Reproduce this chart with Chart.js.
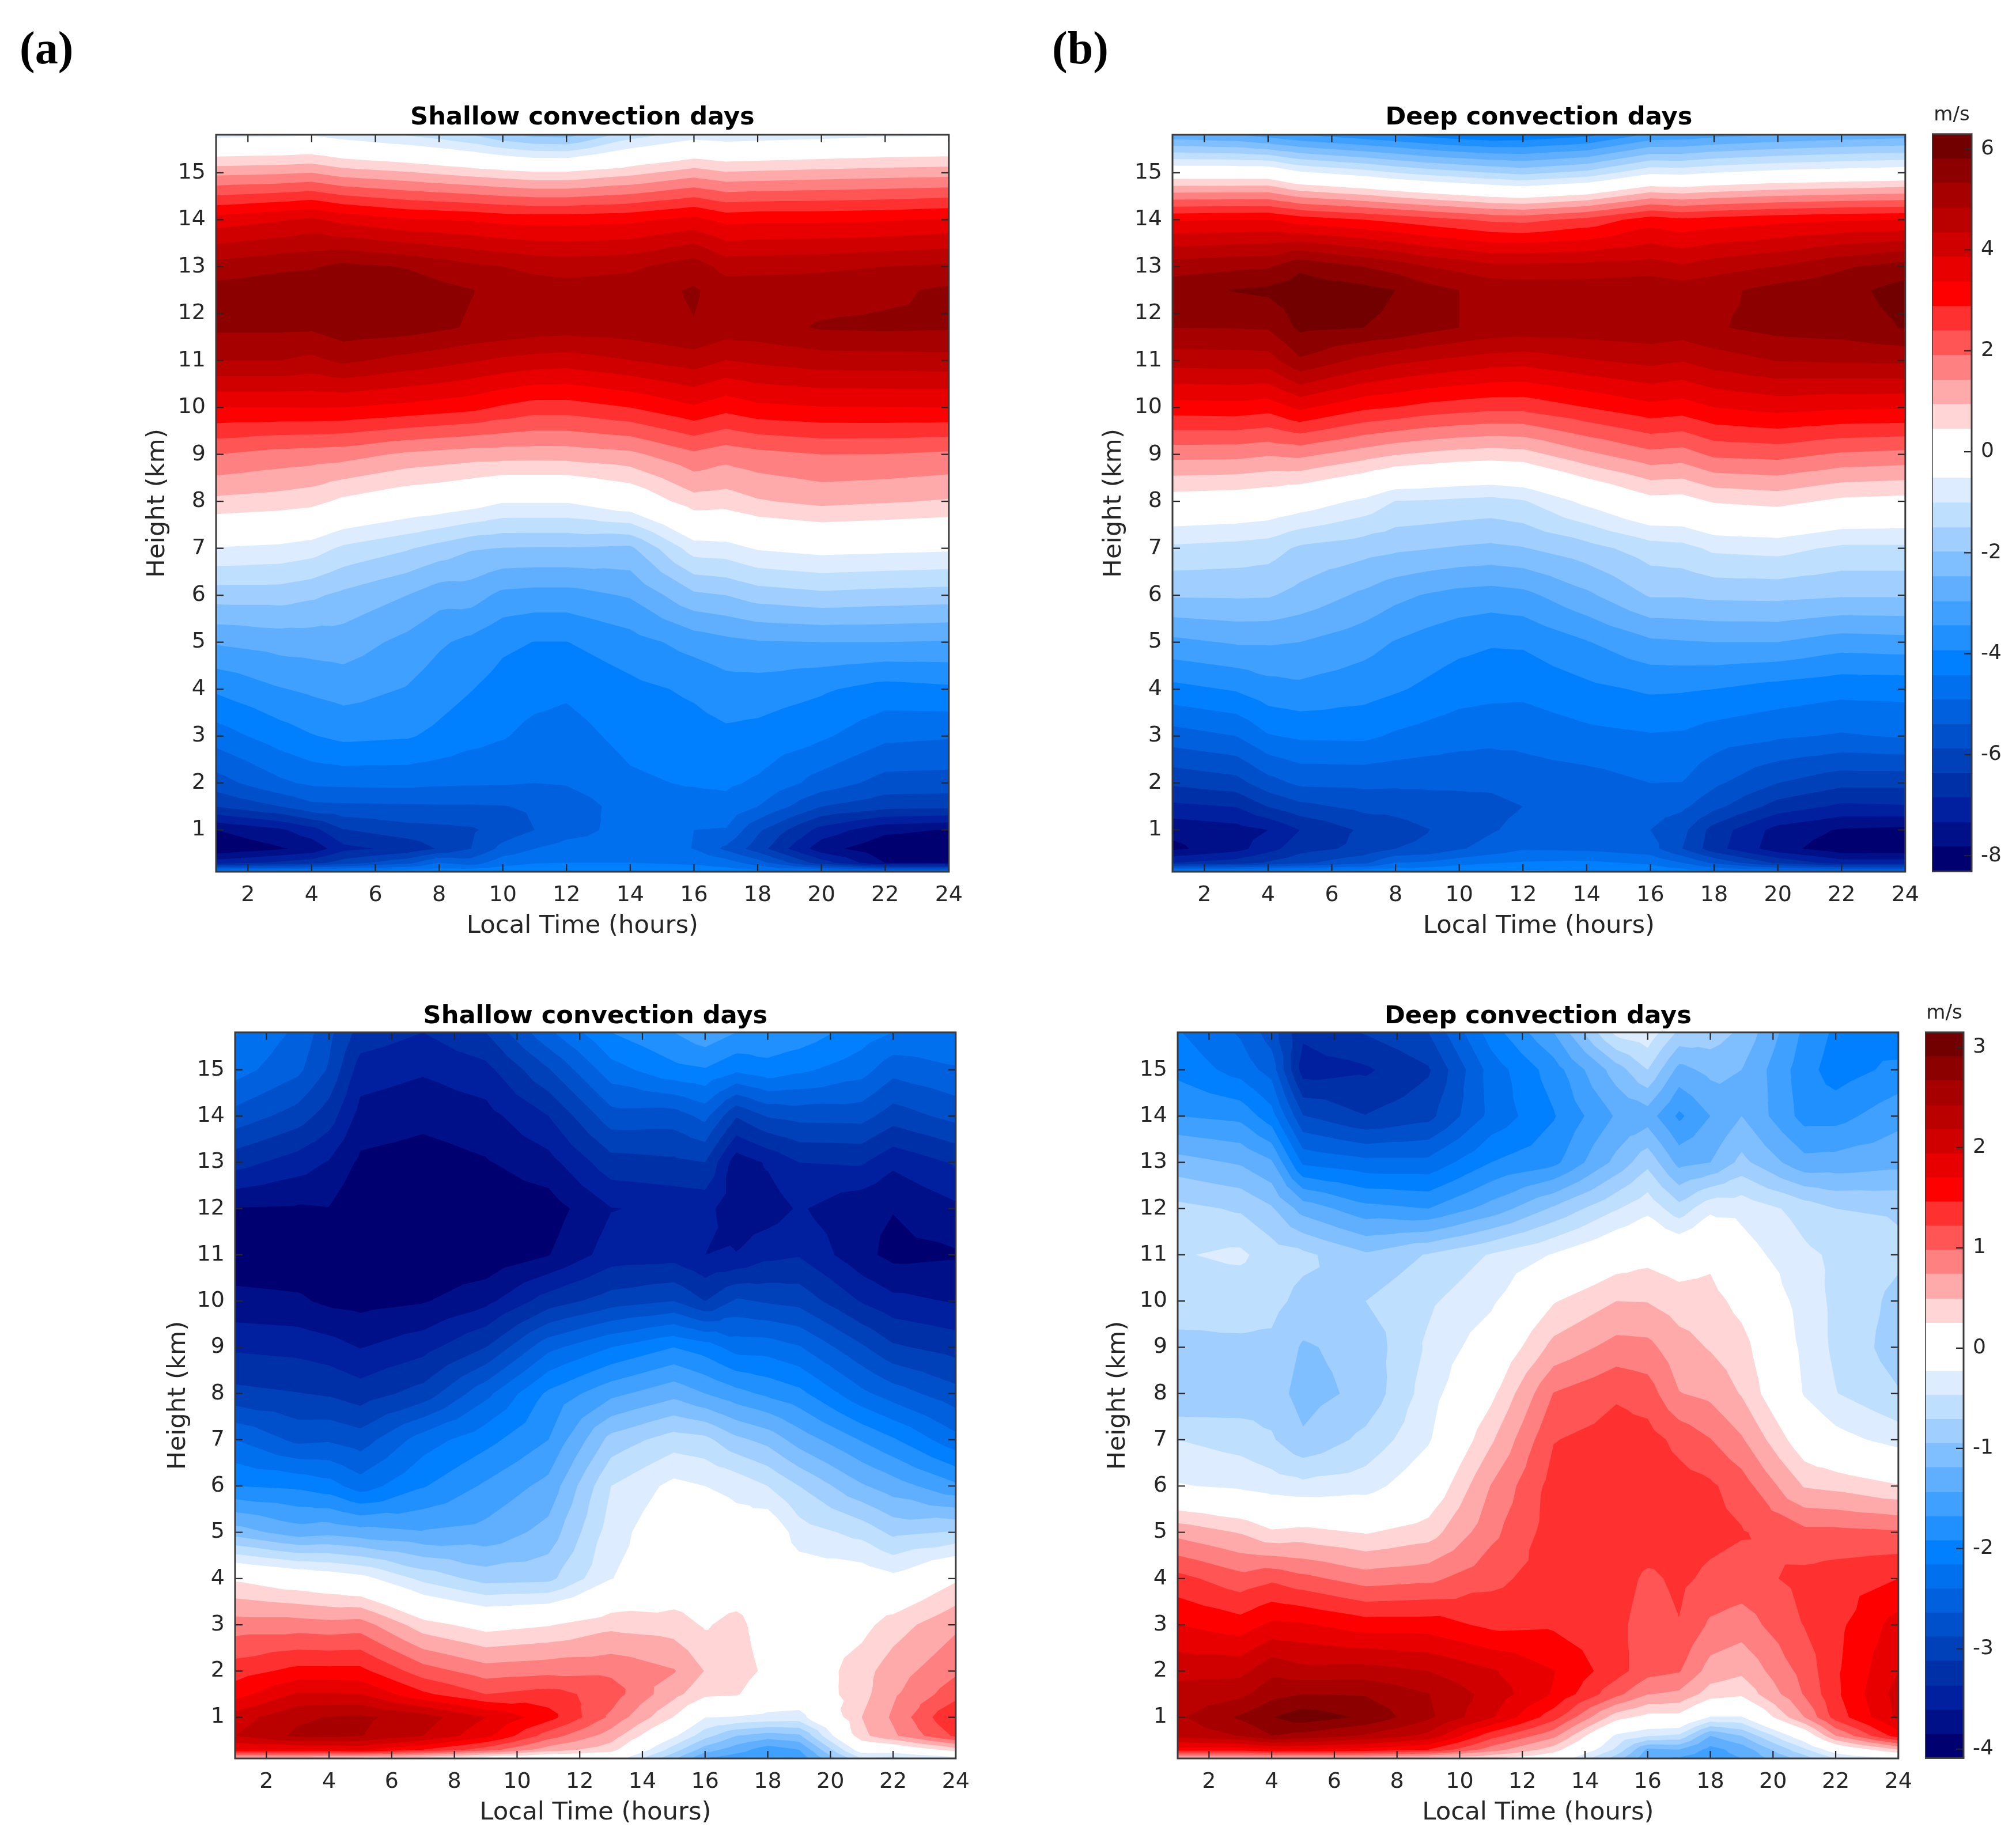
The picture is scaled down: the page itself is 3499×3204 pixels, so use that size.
<!DOCTYPE html>
<html><head><meta charset="utf-8">
<script src="https://cdn.jsdelivr.net/npm/chart.js@4"></script>
<style>
html,body{margin:0;padding:0;background:#fff}
#page{position:relative;width:3499px;height:3204px;overflow:hidden;background:#fff}
#page canvas{position:absolute}
.tag{position:absolute;font:bold 80px "Liberation Serif",serif;color:#000;line-height:1}
</style></head><body><div id="page">
<div class="tag" style="left:34px;top:43px">(a)</div>
<div class="tag" style="left:1826px;top:43px">(b)</div>
</div>
<script>
const HEIGHTS_TOP=[0.11,0.3,0.6,1,1.5,2,3,4,5,6,7,8,9,10,11,11.7,12.5,13,14,15,15.81];
const HEIGHTS_BOTTOM=[0.11,0.3,0.6,1,1.5,2,3,4,5,6,7,8,9,10,11,12,13,14,15,15.81];
const HOURS_TOP=[1,3,4,5,7,8,9,10,11,12,14,16,17,18,20,22,24];
const HOURS_BOTTOM=[1,3,4,5,7,9,11,13,15,16,17,18,19,21,22,24];
const X_TICKS=[2,4,6,8,10,12,14,16,18,20,22,24];
const Y_TICKS=[1,2,3,4,5,6,7,8,9,10,11,12,13,14,15];
const BAR_TICKS_TOP=[-8,-6,-4,-2,0,2,4,6];
const BAR_TICKS_BOTTOM=[-4,-3,-2,-1,0,1,2,3];
const LEVELS_TOP=[-8.31,-7.82,-7.34,-6.85,-6.36,-5.88,-5.39,-4.90,-4.42,-3.93,-3.44,-2.96,-2.47,-1.98,-1.50,-1.01,-0.52,-0.04,0.45,0.94,1.42,1.91,2.40,2.88,3.37,3.86,4.34,4.83,5.32,5.80,6.29];
const LEVELS_BOTTOM=[-4.09,-3.85,-3.61,-3.37,-3.12,-2.88,-2.64,-2.40,-2.16,-1.92,-1.68,-1.44,-1.19,-0.95,-0.71,-0.47,-0.23,0.01,0.25,0.49,0.74,0.98,1.22,1.46,1.70,1.94,2.18,2.42,2.67,2.91,3.15];
const BAND_COLORS=["#000070","#001088","#0020a0","#0030a8","#0040b8","#0050cc","#0060dd","#0070ee","#0080ff","#2090ff","#40a0ff","#60afff","#80bfff","#a0cfff","#bfdfff","#deecff","#ffffff","#ffffff","#ffd5d5","#ffaaaa","#ff8080","#ff5555","#ff3030","#ff0000","#e80000","#d10000","#bb0000","#a60000","#8c0000","#730000"];
const TITLE_SHALLOW="Shallow convection days";
const TITLE_DEEP="Deep convection days";
// each row: one local hour, values (m/s) from the lowest height to the highest
const PANEL_A=[
[-4.27,-7.09,-8.21,-7.82,-6.34,-5.61,-4.66,-3.85,-2.91,-1.76,-0.55,0.82,1.91,3.37,4.83,5.41,5.51,5.03,3.59,1.28,-0.67],
[-4.27,-6.75,-7.87,-7.43,-5.88,-5.00,-4.17,-3.47,-2.76,-1.76,-0.64,0.72,1.72,3.37,4.83,5.41,5.61,5.22,3.81,1.35,-0.62],
[-4.22,-6.56,-7.68,-7.04,-5.53,-4.81,-3.96,-3.35,-2.74,-1.89,-0.77,0.62,1.67,3.39,4.71,5.39,5.66,5.27,3.95,1.42,-0.57],
[-4.22,-6.12,-6.99,-6.39,-5.49,-4.77,-3.81,-3.24,-2.71,-2.10,-1.11,0.33,1.62,3.37,4.93,5.61,5.73,5.46,3.71,1.18,-0.77],
[-4.12,-5.54,-6.70,-6.07,-5.46,-4.76,-3.88,-3.47,-3.10,-2.47,-1.45,0.01,1.33,3.22,4.66,5.54,5.61,5.29,3.42,0.99,-1.06],
[-4.12,-4.90,-6.31,-6.02,-5.44,-4.81,-4.05,-3.70,-3.37,-2.76,-1.69,-0.08,1.25,3.13,4.54,5.41,5.46,5.12,3.37,0.86,-1.25],
[-4.12,-5.15,-5.88,-5.95,-5.44,-4.84,-4.25,-3.91,-3.56,-2.74,-1.93,-0.23,1.18,3.03,4.39,5.27,5.34,4.95,3.32,0.74,-1.50],
[-4.08,-4.61,-5.24,-5.68,-5.41,-4.85,-4.38,-4.13,-3.83,-3.09,-2.00,-0.47,1.16,2.81,4.25,5.20,5.17,4.83,3.22,0.62,-1.89],
[-4.03,-4.46,-4.90,-5.39,-5.32,-4.90,-4.57,-4.25,-3.94,-3.15,-2.01,-0.47,1.15,2.64,4.15,5.10,5.07,4.71,3.18,0.52,-2.13],
[-3.98,-4.42,-4.71,-5.10,-5.20,-4.86,-4.61,-4.34,-3.94,-3.15,-2.01,-0.47,1.16,2.64,4.10,5.05,5.03,4.64,3.18,0.52,-2.18],
[-4.03,-4.42,-4.66,-4.71,-4.66,-4.51,-4.27,-4.06,-3.64,-2.91,-2.08,-0.08,1.30,2.88,4.33,5.12,5.10,4.73,3.25,0.79,-1.25],
[-4.12,-4.51,-4.91,-4.90,-4.66,-4.37,-4.12,-3.85,-3.25,-2.08,-0.77,0.74,1.81,3.30,4.59,5.30,5.37,5.12,3.52,1.18,-0.77],
[-4.17,-4.66,-5.49,-4.93,-4.56,-4.34,-4.03,-3.66,-3.10,-1.98,-0.72,0.69,1.62,3.05,4.33,5.12,5.12,4.64,3.22,0.99,-0.86],
[-4.27,-5.15,-6.12,-5.78,-4.90,-4.49,-4.09,-3.67,-3.00,-1.76,-0.47,0.89,1.76,3.25,4.44,5.12,5.07,4.68,3.27,1.03,-0.81],
[-4.42,-6.61,-7.63,-7.04,-5.88,-5.10,-4.34,-3.86,-2.96,-1.62,-0.33,1.08,1.91,3.35,4.59,5.37,5.12,4.73,3.27,1.11,-0.72],
[-4.66,-7.82,-8.16,-7.70,-6.19,-5.58,-4.78,-4.12,-2.96,-1.69,-0.38,0.99,1.90,3.36,4.61,5.41,5.22,4.83,3.32,1.18,-0.62],
[-4.76,-7.82,-8.21,-7.85,-6.24,-5.61,-4.85,-4.03,-3.00,-1.74,-0.43,0.89,1.81,3.37,4.64,5.37,5.41,4.93,3.42,1.23,-0.57]];
const PANEL_B=[
[-4.17,-6.85,-7.92,-7.70,-6.97,-6.27,-5.12,-4.08,-3.08,-1.93,-1.11,0.16,1.59,3.15,4.56,5.32,5.61,5.10,3.32,0.01,-2.81],
[-4.17,-6.60,-7.53,-7.53,-6.83,-6.07,-4.90,-3.88,-2.91,-1.91,-1.20,0.09,1.57,3.18,4.59,5.34,5.83,5.22,3.37,0.01,-2.96],
[-4.12,-6.30,-7.04,-7.34,-6.34,-5.58,-4.46,-3.64,-2.91,-1.93,-1.28,0.00,1.47,3.08,4.61,5.37,5.90,5.27,3.39,0.01,-3.20],
[-4.12,-6.00,-6.56,-6.85,-6.02,-5.29,-4.34,-3.56,-2.96,-2.13,-1.59,-0.18,1.55,3.47,5.25,5.90,6.05,5.71,3.13,-0.43,-3.44],
[-4.08,-5.50,-6.22,-6.27,-5.73,-5.27,-4.32,-3.73,-3.25,-2.57,-1.79,-0.64,1.16,2.98,4.68,5.80,5.95,5.32,2.88,-0.77,-3.78],
[-4.08,-4.90,-5.88,-6.07,-5.73,-5.29,-4.49,-3.87,-3.47,-2.83,-1.89,-1.03,0.96,2.87,4.47,5.71,5.80,5.12,2.74,-1.01,-3.93],
[-4.03,-4.81,-5.78,-5.90,-5.63,-5.29,-4.61,-4.03,-3.64,-3.00,-1.96,-1.06,0.84,2.71,4.34,5.49,5.51,4.83,2.59,-1.20,-4.12],
[-3.93,-4.61,-5.44,-5.68,-5.58,-5.29,-4.71,-4.21,-3.78,-3.13,-2.03,-1.13,0.74,2.62,4.22,5.32,5.32,4.68,2.45,-1.35,-4.27],
[-3.88,-4.46,-5.20,-5.44,-5.53,-5.29,-4.76,-4.27,-3.88,-3.18,-2.08,-1.18,0.69,2.54,4.10,5.17,5.17,4.49,2.30,-1.50,-4.37],
[-3.83,-4.37,-4.95,-5.24,-5.39,-5.15,-4.76,-4.29,-3.86,-3.10,-2.01,-1.06,0.74,2.54,4.05,5.12,5.10,4.49,2.25,-1.64,-4.32],
[-3.88,-4.32,-5.00,-5.10,-5.15,-5.10,-4.56,-4.05,-3.47,-2.57,-1.69,-0.38,1.30,2.88,4.30,5.12,5.12,4.51,2.54,-1.35,-4.08],
[-4.08,-4.51,-5.20,-5.39,-5.20,-4.90,-4.46,-3.86,-3.05,-1.93,-1.25,0.26,1.76,3.22,4.49,5.17,5.20,4.59,3.13,-0.62,-3.35],
[-4.17,-4.90,-5.88,-5.73,-5.29,-4.91,-4.49,-3.88,-3.00,-1.93,-1.18,0.23,1.69,3.13,4.37,5.12,5.12,4.42,2.98,-0.67,-3.30],
[-4.32,-5.49,-6.65,-6.56,-5.73,-5.29,-4.66,-3.93,-2.96,-1.86,-0.91,0.50,2.01,3.37,4.59,5.27,5.17,4.61,3.08,-0.52,-3.15],
[-4.51,-6.46,-7.63,-7.53,-6.56,-5.88,-4.83,-4.12,-2.96,-1.84,-0.84,0.62,2.08,3.54,4.85,5.49,5.51,4.85,3.22,-0.33,-2.96],
[-4.66,-7.09,-8.12,-7.87,-6.95,-6.22,-4.95,-4.27,-3.20,-1.93,-1.11,0.33,1.84,3.44,4.90,5.56,5.63,5.25,3.32,-0.23,-2.81],
[-4.76,-7.09,-8.16,-7.95,-6.90,-6.22,-4.85,-4.25,-3.15,-1.93,-1.11,0.26,1.76,3.42,4.93,5.83,6.00,5.54,3.37,-0.13,-2.71]];
const PANEL_C=[
[0.49,1.70,2.18,2.06,1.60,1.35,0.86,0.21,-1.07,-1.92,-2.40,-3.05,-3.41,-3.78,-3.99,-3.86,-3.27,-2.73,-2.30,-2.14],
[0.49,1.70,2.47,2.38,1.97,1.53,0.86,0.04,-1.32,-1.97,-2.70,-3.11,-3.45,-3.81,-4.02,-3.88,-3.49,-2.99,-2.58,-2.45],
[0.37,1.70,2.50,2.43,1.97,1.53,0.83,-0.04,-1.27,-2.06,-2.67,-3.15,-3.51,-3.90,-4.04,-3.86,-3.63,-3.25,-2.91,-2.81],
[0.33,1.77,2.43,2.47,1.94,1.53,0.86,-0.13,-1.34,-2.28,-2.76,-3.25,-3.62,-3.93,-4.09,-4.07,-3.90,-3.70,-3.49,-3.22],
[0.25,1.46,2.18,2.30,1.51,1.09,0.35,-0.54,-1.42,-1.94,-2.28,-3.02,-3.46,-3.87,-4.07,-4.07,-3.96,-3.78,-3.58,-3.37],
[0.01,1.10,1.77,1.94,1.22,0.86,0.14,-0.81,-1.36,-1.64,-2.00,-2.47,-3.12,-3.68,-4.04,-4.02,-3.87,-3.70,-3.45,-3.12],
[-0.11,0.62,1.10,1.56,1.32,0.91,0.23,-0.78,-1.10,-1.36,-1.68,-1.87,-2.47,-3.25,-3.86,-3.97,-3.70,-3.37,-2.90,-2.45],
[-0.04,0.35,0.62,0.93,1.10,0.93,0.42,-0.24,-0.35,-0.47,-0.86,-1.51,-2.16,-3.00,-3.50,-3.62,-3.22,-2.74,-2.26,-1.92],
[-0.91,-0.59,-0.18,0.24,0.57,0.76,0.37,0.01,0.01,-0.16,-0.59,-1.27,-1.92,-2.88,-3.47,-3.56,-3.17,-2.76,-1.99,-1.68],
[-1.44,-1.07,-0.62,-0.22,0.31,0.48,0.22,0.01,0.01,-0.23,-0.64,-1.44,-2.04,-3.12,-3.61,-3.54,-3.12,-2.57,-1.94,-1.51],
[-1.60,-1.32,-0.95,-0.25,0.28,0.40,0.35,0.01,-0.11,-0.30,-0.89,-1.60,-2.26,-2.84,-3.60,-3.75,-3.75,-3.10,-2.11,-1.68],
[-1.68,-1.58,-1.07,-0.30,0.01,0.18,0.06,0.01,0.01,-0.47,-1.03,-1.73,-2.27,-2.91,-3.44,-3.74,-3.58,-2.86,-2.01,-1.73],
[-1.63,-1.44,-1.00,-0.33,-0.01,0.01,0.01,-0.06,-0.35,-0.71,-1.30,-1.85,-2.38,-2.96,-3.39,-3.58,-3.37,-2.80,-2.11,-1.77],
[-0.47,-0.06,0.42,0.49,0.40,0.39,0.16,-0.06,-0.55,-1.16,-1.70,-2.34,-2.84,-3.39,-3.78,-3.80,-3.34,-2.79,-2.30,-2.04],
[-0.57,-0.04,0.69,0.78,0.70,0.62,0.37,-0.16,-0.77,-1.32,-1.89,-2.52,-3.08,-3.54,-3.92,-3.84,-3.56,-3.00,-2.56,-2.16],
[-0.35,0.37,1.27,1.48,1.12,0.94,0.69,0.21,-0.69,-1.63,-2.32,-2.79,-3.22,-3.63,-3.88,-3.66,-3.34,-2.80,-2.43,-2.18]];
const PANEL_D=[
[0.49,1.58,2.26,2.38,2.26,2.11,1.70,1.30,0.66,-0.21,-0.47,-0.95,-0.76,-0.63,-0.49,-0.64,-1.09,-1.68,-1.99,-2.14],
[0.49,1.58,2.43,2.71,2.35,2.11,1.57,1.07,0.47,-0.28,-0.57,-0.87,-0.74,-0.64,-0.42,-0.74,-1.22,-1.75,-2.26,-2.43],
[0.49,1.70,2.67,2.90,2.59,2.36,1.75,1.17,0.29,-0.35,-0.68,-0.83,-0.76,-0.64,-0.59,-0.92,-1.41,-2.06,-2.50,-2.76],
[0.49,1.70,2.59,3.05,2.67,2.26,1.73,1.05,0.33,-0.40,-0.91,-1.05,-0.98,-0.78,-0.65,-1.29,-2.21,-2.87,-3.49,-3.32],
[0.49,1.63,2.38,2.87,2.65,2.28,1.58,0.86,0.23,-0.34,-0.64,-0.88,-0.86,-0.71,-0.91,-1.60,-2.33,-3.11,-3.41,-3.10],
[0.37,1.46,2.11,2.47,2.43,2.18,1.58,0.92,0.37,-0.01,-0.26,-0.35,-0.43,-0.51,-0.69,-1.68,-2.33,-2.96,-3.15,-2.88],
[0.25,0.86,1.32,1.97,2.09,1.97,1.40,1.15,0.91,0.75,0.45,0.18,-0.06,-0.28,-0.45,-1.34,-1.92,-2.33,-2.30,-2.04],
[0.01,0.37,0.81,1.32,1.68,1.71,1.42,1.35,1.34,1.32,1.21,0.99,0.57,0.23,-0.21,-0.91,-1.75,-1.94,-1.80,-1.44],
[-0.83,-0.52,-0.28,0.35,1.05,1.32,1.29,1.34,1.41,1.39,1.32,1.19,0.83,0.49,0.08,-0.49,-1.12,-1.41,-1.07,-0.40],
[-1.39,-1.24,-0.45,0.16,0.75,1.07,1.10,1.17,1.39,1.39,1.32,1.10,0.81,0.48,0.16,-0.30,-0.78,-1.32,-0.71,-0.30],
[-1.48,-1.19,-0.52,0.16,0.69,1.00,1.21,1.27,1.34,1.32,1.15,0.75,0.59,0.37,0.08,-0.62,-1.27,-1.73,-1.27,-0.76],
[-1.56,-1.53,-1.19,-0.25,0.37,0.64,0.94,1.17,1.29,1.26,0.99,0.68,0.47,0.35,0.18,-0.29,-1.19,-1.44,-1.12,-0.81],
[-1.44,-1.34,-0.95,-0.25,0.30,0.54,0.86,1.12,1.24,1.10,0.77,0.47,0.35,0.16,-0.11,-0.30,-0.88,-1.19,-1.19,-1.00],
[-0.83,-0.52,-0.01,0.74,1.00,1.07,1.23,1.29,1.05,0.47,0.06,-0.25,-0.30,-0.35,-0.42,-0.57,-1.36,-1.77,-1.82,-1.73],
[-0.47,-0.06,0.74,1.32,1.41,1.42,1.39,1.34,1.05,0.42,-0.13,-0.46,-0.52,-0.52,-0.51,-0.71,-1.34,-1.77,-2.04,-1.97],
[-0.23,0.49,1.58,1.99,2.04,1.94,1.80,1.46,1.01,0.27,-0.33,-0.69,-0.83,-0.78,-0.66,-0.74,-1.27,-1.52,-1.85,-2.11]];

const INK="#262626", FONT='"DejaVu Sans"';

function clipTriangle(tri,level){
  const out=[];
  for(let i=0;i<3;i++){
    const a=tri[i],b=tri[(i+1)%3],ain=a[2]>=level,bin=b[2]>=level;
    if(ain)out.push(a);
    if(ain!==bin){const f=(level-a[2])/(b[2]-a[2]);out.push([a[0]+f*(b[0]-a[0]),a[1]+f*(b[1]-a[1]),level]);}
  }
  return out;
}
const contourPlugin={
  id:"contour",
  beforeDatasetsDraw(chart,_,o){
    const {ctx,chartArea:ca,scales:{x,y}}=chart;
    const pts=chart.data.datasets[0].data, nx=o.nx, ny=o.ny;
    const node=(i,j)=>{const p=pts[i*ny+j];return [x.getPixelForValue(p.x),y.getPixelForValue(p.y),p.v];};
    const tris=[];
    for(let i=0;i<nx-1;i++)for(let j=0;j<ny-1;j++){
      const a=node(i,j),b=node(i+1,j),c=node(i+1,j+1),d=node(i,j+1);
      const m=[(a[0]+c[0])/2,(a[1]+c[1])/2,(a[2]+b[2]+c[2]+d[2])/4];
      tris.push([m,a,b],[m,b,c],[m,c,d],[m,d,a]);
    }
    ctx.save();
    ctx.beginPath();ctx.rect(ca.left,ca.top,ca.width,ca.height);ctx.clip();
    ctx.fillStyle=o.colors[0];ctx.fillRect(ca.left,ca.top,ca.width,ca.height);
    for(let k=1;k<o.colors.length;k++){
      ctx.beginPath();
      for(const t of tris){
        const poly=clipTriangle(t,o.levels[k]);
        if(poly.length<3)continue;
        ctx.moveTo(poly[0][0],poly[0][1]);
        for(let n=1;n<poly.length;n++)ctx.lineTo(poly[n][0],poly[n][1]);
        ctx.closePath();
      }
      ctx.fillStyle=o.colors[k];ctx.fill();
    }
    ctx.restore();
  }
};
const framePlugin={
  id:"frame",
  afterDraw(chart,_,o){
    const {ctx,chartArea:ca,scales:{x,y}}=chart;
    ctx.save();ctx.strokeStyle=INK;ctx.lineWidth=2.2;ctx.beginPath();
    const L=13;
    if(o.mirror){
      for(const t of x.ticks){const p=x.getPixelForValue(t.value);
        ctx.moveTo(p,ca.bottom);ctx.lineTo(p,ca.bottom-L);ctx.moveTo(p,ca.top);ctx.lineTo(p,ca.top+L);}
      for(const t of y.ticks){const p=y.getPixelForValue(t.value);
        ctx.moveTo(ca.left,p);ctx.lineTo(ca.left+L,p);ctx.moveTo(ca.right,p);ctx.lineTo(ca.right-L,p);}
    }else{
      for(const t of y.ticks){const p=y.getPixelForValue(t.value);
        ctx.moveTo(ca.right,p);ctx.lineTo(ca.right-L,p);}
    }
    ctx.stroke();
    ctx.lineWidth=3;ctx.strokeStyle="#3a3a3a";ctx.strokeRect(ca.left,ca.top,ca.width,ca.height);
    ctx.restore();
  }
};

function place(config,target,w0,h0){
  const c=document.createElement("canvas");
  c.width=w0;c.height=h0;c.style.width=w0+"px";c.style.height=h0+"px";
  document.getElementById("page").appendChild(c);
  const chart=new Chart(c,config);
  let ca=chart.chartArea;
  const dw=Math.round((target.r-target.l)-(ca.right-ca.left)), dh=Math.round((target.b-target.t)-(ca.bottom-ca.top));
  if(dw||dh)chart.resize(w0+dw,h0+dh);
  ca=chart.chartArea;
  c.style.left=(target.l-ca.left)+"px";
  c.style.top=(target.t-ca.top)+"px";
  return chart;
}
function panel(title,hours,heights,profiles,levels,target,leftW,titlePad){
  const pts=[];
  hours.forEach((h,i)=>heights.forEach((z,j)=>pts.push({x:h,y:z,v:profiles[i][j]})));
  const tickFont={family:FONT,size:38};
  const labelFont={family:FONT,size:43.4};
  place({
    type:"scatter",
    data:{datasets:[{label:title,data:pts,pointRadius:0,showLine:false}]},
    plugins:[contourPlugin,framePlugin],
    options:{
      responsive:false,maintainAspectRatio:false,animation:false,devicePixelRatio:1,
      layout:{padding:{right:40}},
      plugins:{
        legend:{display:false},tooltip:{enabled:false},
        title:{display:true,text:title,fullSize:false,color:"#000",font:{family:FONT,size:43.2,weight:"bold"},padding:{top:0,bottom:titlePad}},
        contour:{nx:hours.length,ny:heights.length,levels,colors:BAND_COLORS},
        frame:{mirror:true}
      },
      scales:{
        x:{type:"linear",min:1,max:24,grid:{display:false,drawTicks:false},border:{display:false},
          afterBuildTicks:s=>{s.ticks=X_TICKS.map(v=>({value:v}));},
          afterFit:s=>{s.height=121;},
          ticks:{color:INK,font:tickFont,padding:18,autoSkip:false,maxRotation:0,minRotation:0,callback:v=>String(v)},
          title:{display:true,text:"Local Time (hours)",color:INK,font:labelFont,padding:0}},
        y:{type:"linear",min:0.11,max:15.81,grid:{display:false,drawTicks:false},border:{display:false},
          afterBuildTicks:s=>{s.ticks=Y_TICKS.map(v=>({value:v}));},
          afterFit:s=>{s.width=leftW;},
          ticks:{color:INK,font:tickFont,padding:18,autoSkip:false,callback:v=>String(v)},
          title:{display:true,text:"Height (km)",color:INK,font:labelFont,padding:0}}
      }
    }
  },target,leftW+(target.r-target.l)+80,90+(target.b-target.t)+130);
}
function colorbar(levels,ticks,target){
  const datasets=BAND_COLORS.map((col,k)=>({data:[[levels[k],levels[k+1]]],backgroundColor:col,borderWidth:0,barPercentage:1,categoryPercentage:1,grouped:false}));
  place({
    type:"bar",
    data:{labels:["m/s"],datasets},
    plugins:[framePlugin],
    options:{
      responsive:false,maintainAspectRatio:false,animation:false,devicePixelRatio:1,
      plugins:{
        legend:{display:false},tooltip:{enabled:false},
        title:{display:true,text:"m/s",fullSize:false,color:INK,font:{family:FONT,size:34,weight:"normal"},padding:{top:0,bottom:12}},
        frame:{mirror:false}
      },
      scales:{
        x:{display:false},
        y:{type:"linear",position:"right",min:levels[0],max:levels[levels.length-1],grid:{display:false,drawTicks:false},border:{display:false},
          afterBuildTicks:s=>{s.ticks=ticks.map(v=>({value:v}));},
          afterFit:s=>{s.width=80;},
          ticks:{color:INK,font:{family:FONT,size:36},padding:16,autoSkip:false,callback:v=>String(v)}}
      }
    }
  },target,(target.r-target.l)+80,(target.b-target.t)+100);
}
panel(TITLE_SHALLOW,HOURS_TOP,HEIGHTS_TOP,PANEL_A,LEVELS_TOP,{l:375,t:234,r:1647,b:1513},127,3);
panel(TITLE_DEEP,HOURS_TOP,HEIGHTS_TOP,PANEL_B,LEVELS_TOP,{l:2035,t:234,r:3307,b:1513},127,3);
panel(TITLE_SHALLOW,HOURS_BOTTOM,HEIGHTS_BOTTOM,PANEL_C,LEVELS_BOTTOM,{l:408,t:1792,r:1659,b:3052},124,1);
panel(TITLE_DEEP,HOURS_BOTTOM,HEIGHTS_BOTTOM,PANEL_D,LEVELS_BOTTOM,{l:2044,t:1792,r:3295,b:3052},129,1);
colorbar(LEVELS_TOP,BAR_TICKS_TOP,{l:3353,t:233,r:3422,b:1513});
colorbar(LEVELS_BOTTOM,BAR_TICKS_BOTTOM,{l:3341,t:1792,r:3408,b:3052});
</script></body></html>
